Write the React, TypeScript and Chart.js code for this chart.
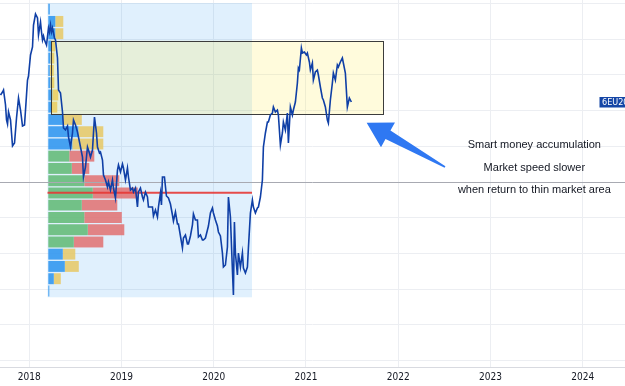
import { useEffect, useRef } from 'react';
import { Chart, registerables } from 'chart.js';

Chart.register(...registerables);

// Weekly closes: x = months since Jan 2018, y = price
const months = [
  -3.73, -3.47, -3.34, -3.08, -2.95, -2.82, -2.69, -2.43, -2.17, -1.91,
  -1.65, -1.39, -1.13, -0.87, -0.61, -0.35, -0.22, -0.09, 0.17, 0.43,
  0.56, 0.82, 1.08, 1.21, 1.47, 1.6, 1.73, 1.86, 1.99, 2.25,
  2.51, 2.64, 2.77, 2.9, 3.03, 3.29, 3.42, 3.68, 3.81, 4.07,
  4.33, 4.46, 4.72, 4.98, 5.11, 5.37, 5.63, 5.76, 6.02, 6.28,
  6.41, 6.67, 6.93, 7.06, 7.32, 7.58, 7.71, 7.97, 8.23, 8.36,
  8.49, 8.75, 8.88, 9.14, 9.27, 9.53, 9.66, 9.92, 10.18, 10.31,
  10.57, 10.83, 10.96, 11.22, 11.48, 11.61, 11.87, 12.13, 12.26, 12.52,
  12.78, 12.91, 13.17, 13.43, 13.56, 13.82, 14.08, 14.21, 14.47, 14.73,
  14.86, 15.12, 15.38, 15.51, 15.77, 16.03, 16.16, 16.42, 16.68, 16.81,
  17.07, 17.2, 17.33, 17.59, 17.85, 18.11, 18.37, 18.63, 18.76, 19.02,
  19.28, 19.41, 19.67, 19.93, 20.06, 20.32, 20.58, 20.71, 20.97, 21.23,
  21.36, 21.62, 21.88, 22.01, 22.27, 22.53, 22.66, 22.92, 23.18, 23.31,
  23.57, 23.83, 23.96, 24.22, 24.48, 24.61, 24.87, 25.13, 25.26, 25.52,
  25.78, 25.91, 26.17, 26.43, 26.56, 26.69, 26.82, 27.08, 27.21, 27.47,
  27.73, 27.86, 28.12, 28.38, 28.51, 28.77, 29.03, 29.16, 29.42, 29.68,
  29.81, 30.07, 30.33, 30.46, 30.72, 30.98, 31.11, 31.37, 31.63, 31.76,
  32.02, 32.28, 32.41, 32.67, 32.93, 33.06, 33.32, 33.58, 33.71, 33.97,
  34.23, 34.36, 34.62, 34.88, 35.01, 35.14, 35.4, 35.53, 35.79, 36.05,
  36.18, 36.44, 36.57, 36.83, 36.96, 37.22, 37.48, 37.61, 37.87, 38.13,
  38.26, 38.52, 38.78, 38.91, 39.17, 39.43, 39.56, 39.82, 40.08, 40.21,
  40.47, 40.73, 40.86, 41.12, 41.38, 41.64, 41.9,
];

const prices = [
  1.2109, 1.213, 1.2144, 1.2039, 1.1934, 1.1906, 1.199, 1.1934, 1.1752, 1.1773,
  1.1948, 1.2088, 1.2004, 1.1892, 1.1899, 1.2109, 1.2214, 1.2242, 1.2389, 1.2445,
  1.2599, 1.2676, 1.2648, 1.2529, 1.262, 1.255, 1.2494, 1.2522, 1.2494, 1.2459,
  1.2578, 1.255, 1.2599, 1.255, 1.2578, 1.2508, 1.2494, 1.2368, 1.2144, 1.2123,
  1.199, 1.1878, 1.1864, 1.1892, 1.1815, 1.1745, 1.1843, 1.1934, 1.1899, 1.185,
  1.1815, 1.1745, 1.1675, 1.1535, 1.1605, 1.1745, 1.1724, 1.1675, 1.1724, 1.1843,
  1.1955, 1.1843, 1.1745, 1.1703, 1.171, 1.1654, 1.1549, 1.1514, 1.1465, 1.15,
  1.1444, 1.1514, 1.1458, 1.1388, 1.1584, 1.1619, 1.157, 1.1626, 1.1598, 1.1514,
  1.1598, 1.1535, 1.1444, 1.1458, 1.143, 1.1458, 1.1325, 1.143, 1.1458, 1.1395,
  1.1374, 1.143, 1.1395, 1.1325, 1.1325, 1.1325, 1.1262, 1.1304, 1.1255, 1.1325,
  1.1423, 1.1339, 1.1535, 1.1535, 1.1402, 1.1388, 1.1346, 1.1269, 1.1227, 1.129,
  1.1206, 1.1206, 1.1122, 1.1038, 1.1108, 1.1129, 1.1066, 1.1066, 1.1122, 1.1199,
  1.1276, 1.1234, 1.1234, 1.1115, 1.1129, 1.1094, 1.1094, 1.1108, 1.1164, 1.1192,
  1.1283, 1.1318, 1.1283, 1.1234, 1.1192, 1.115, 1.1122, 1.1003, 1.0905, 1.0919,
  1.1045, 1.1395, 1.1255, 1.0884, 1.0709, 1.122, 1.1003, 1.0849, 1.1003, 1.0905,
  1.1003, 1.0898, 1.0863, 1.0905, 1.1038, 1.1283, 1.1374, 1.1325, 1.1283, 1.1318,
  1.1325, 1.1395, 1.1514, 1.1745, 1.1843, 1.192, 1.192, 1.1969, 1.1983, 1.2025,
  1.199, 1.2004, 1.1969, 1.1759, 1.1843, 1.192, 1.1864, 1.1983, 1.1773, 1.2025,
  1.1969, 1.2004, 1.206, 1.2193, 1.2298, 1.2284, 1.2438, 1.2403, 1.241, 1.2389,
  1.2403, 1.234, 1.2284, 1.2333, 1.2214, 1.227, 1.2284, 1.2249, 1.2165, 1.2088,
  1.2074, 1.2025, 1.1934, 1.1913, 1.2074, 1.2193, 1.2263, 1.2214, 1.2319, 1.2305,
  1.234, 1.2368, 1.2333, 1.2263, 1.2025, 1.2088, 1.206,
];

const yearTickMonths = [0, 12, 24, 36, 48, 60, 72];
const yearLabels = ['2018', '2019', '2020', '2021', '2022', '2023', '2024'];
const priceGridLevels = [1.025, 1.05, 1.075, 1.1, 1.125, 1.15, 1.175, 1.2, 1.225, 1.25, 1.275];

// Volume profile rows (price level centre), buy / sell volume
const profileLevels = [
  1.271, 1.2624, 1.2538, 1.2452, 1.2367, 1.2281, 1.2195, 1.2109, 1.2024, 1.1938, 1.1852, 1.1766,
  1.1681, 1.1595, 1.1509, 1.1423, 1.1338, 1.1252, 1.1166, 1.108, 1.0995, 1.0909, 1.0823, 1.0737,
];
const buyVolume = [1.5, 7, 7, 3, 2, 1.5, 2, 4, 3.5, 14.5, 30, 24, 21, 23.5, 36, 44.5, 33.5, 36, 39.5, 25.5, 14.5, 16.5, 5.5, 1];
const sellVolume = [0, 8, 8, 4, 4, 4, 4, 6, 5.5, 19, 25, 31, 25, 17.5, 35, 45, 35.5, 37.5, 36.5, 29.5, 12.5, 14, 7, 0];
const valueAreaHigh = 1.1681;
const valueAreaLow = 1.108;

const profileStart = 2.38;
const profileEnd = 28.98;
const profileTop = 1.2753;
const profileBottom = 1.0693;
const pocPrice = 1.1425;

const boxStart = 2.9;
const boxEnd = 46.14;
const boxTop = 1.2489;
const boxBottom = 1.1976;

const horizontalLinePrice = 1.15;

const arrowFrom = [54.08, 1.1605];
const arrowTo = [43.89, 1.1915];

const noteLines = ['Smart money accumulation', 'Market speed slower', 'when return to thin market area'];
const notePrices = [1.1736, 1.1579, 1.1425];
const noteMonth = 65.7;

const symbolLabel = '6EU20';

const LINE_COLOR = '#0f3fa6';
const GRID = '#eceef2';
const NARROW = "'DejaVu Sans Condensed', 'Liberation Sans Narrow', 'Liberation Sans', Arial, sans-serif";

const overlayPlugin = {
  id: 'overlay',
  beforeDatasetsDraw(chart: any) {
    const { ctx, scales } = chart;
    const x = scales.x, y = scales.y;
    const x0 = x.getPixelForValue(profileStart);
    const x1 = x.getPixelForValue(profileEnd);
    const y0 = y.getPixelForValue(profileTop);
    const y1 = y.getPixelForValue(profileBottom);
    ctx.save();
    ctx.fillStyle = 'rgba(33,150,243,0.14)';
    ctx.fillRect(x0, y0, x1 - x0, y1 - y0);
    ctx.restore();
  },
  afterDatasetDraw(chart: any, args: any) {
    if (args.index !== 1) return;
    const { ctx, scales, chartArea } = chart;
    const x = scales.x, y = scales.y;
    ctx.save();
    const bx0 = x.getPixelForValue(boxStart);
    const bx1 = x.getPixelForValue(boxEnd);
    const by0 = y.getPixelForValue(boxTop);
    const by1 = y.getPixelForValue(boxBottom);
    ctx.fillStyle = 'rgba(255,235,59,0.18)';
    ctx.fillRect(bx0, by0, bx1 - bx0, by1 - by0);
    ctx.strokeStyle = '#3c3c3c';
    ctx.lineWidth = 1;
    ctx.strokeRect(Math.round(bx0) + 0.5, Math.round(by0) + 0.5, Math.round(bx1 - bx0), Math.round(by1 - by0));
    const py = y.getPixelForValue(pocPrice);
    ctx.strokeStyle = 'rgba(229,57,53,0.9)';
    ctx.lineWidth = 2;
    ctx.beginPath();
    ctx.moveTo(x.getPixelForValue(profileStart), py);
    ctx.lineTo(x.getPixelForValue(profileEnd), py);
    ctx.stroke();
    const hy = Math.round(y.getPixelForValue(horizontalLinePrice)) + 0.5;
    ctx.strokeStyle = '#a8aab2';
    ctx.lineWidth = 1;
    ctx.beginPath();
    ctx.moveTo(chartArea.left, hy);
    ctx.lineTo(chartArea.right, hy);
    ctx.stroke();
    ctx.restore();
  },
  afterDraw(chart: any) {
    const { ctx, scales, chartArea } = chart;
    const x = scales.x, y = scales.y;
    ctx.save();
    const sx = x.getPixelForValue(arrowFrom[0]);
    const sy = y.getPixelForValue(arrowFrom[1]);
    const tx = x.getPixelForValue(arrowTo[0]);
    const ty = y.getPixelForValue(arrowTo[1]);
    const dx = tx - sx, dy = ty - sy;
    const len = Math.hypot(dx, dy);
    const ux = dx / len, uy = dy / len;
    const nx = -uy, ny = ux;
    const headLen = 24.5, headHalf = 14.2, shaftHalf = 5, tailHalf = 0.8;
    const bxp = tx - ux * headLen, byp = ty - uy * headLen;
    ctx.fillStyle = '#2f78f2';
    ctx.beginPath();
    ctx.moveTo(tx, ty);
    ctx.lineTo(bxp + nx * headHalf, byp + ny * headHalf);
    ctx.lineTo(bxp + nx * shaftHalf, byp + ny * shaftHalf);
    ctx.lineTo(sx + nx * tailHalf, sy + ny * tailHalf);
    ctx.lineTo(sx - nx * tailHalf, sy - ny * tailHalf);
    ctx.lineTo(bxp - nx * shaftHalf, byp - ny * shaftHalf);
    ctx.lineTo(bxp - nx * headHalf, byp - ny * headHalf);
    ctx.closePath();
    ctx.fill();
    ctx.fillStyle = '#131722';
    ctx.font = "11px 'Liberation Sans', Arial, sans-serif";
    ctx.textAlign = 'center';
    ctx.textBaseline = 'alphabetic';
    const nxp = x.getPixelForValue(noteMonth);
    noteLines.forEach((t, i) => {
      ctx.fillText(t, nxp, y.getPixelForValue(notePrices[i]));
    });
    const ly = y.getPixelForValue(prices[prices.length - 1]);
    const lx = chartArea.right - 25.5;
    ctx.fillStyle = '#1546a6';
    ctx.fillRect(lx, Math.round(ly) - 5, 40, 10.5);
    ctx.fillStyle = '#ffffff';
    ctx.font = '9px ' + NARROW;
    ctx.textAlign = 'left';
    ctx.textBaseline = 'middle';
    ctx.fillText(symbolLabel, lx + 2.5, Math.round(ly) + 0.5);
    ctx.restore();
  },
};

export default function App() {
  const ref = useRef<HTMLCanvasElement | null>(null);

  useEffect(() => {
    if (!ref.current) return;
    const inVA = (p: number) => p <= valueAreaHigh + 1e-6 && p >= valueAreaLow - 1e-6;
    const chart = new Chart(ref.current, {
      type: 'line',
      data: {
        datasets: [
          {
            type: 'line',
            data: months.map((m, i) => ({ x: m, y: prices[i] })),
            borderColor: LINE_COLOR,
            borderWidth: 1.6,
            pointRadius: 0,
            tension: 0,
            xAxisID: 'x',
            yAxisID: 'y',
          } as any,
          {
            type: 'bar',
            indexAxis: 'y',
            data: profileLevels.map((p, i) => ({ y: p, x: [0, buyVolume[i]] })),
            backgroundColor: profileLevels.map((p) => (inVA(p) ? 'rgba(102,187,122,0.9)' : 'rgba(52,152,240,0.9)')),
            borderWidth: 0,
            grouped: false,
            barPercentage: 1,
            categoryPercentage: 0.9,
            xAxisID: 'x2',
            yAxisID: 'y',
          } as any,
          {
            type: 'bar',
            indexAxis: 'y',
            data: profileLevels.map((p, i) => ({ y: p, x: [buyVolume[i], buyVolume[i] + sellVolume[i]] })),
            backgroundColor: profileLevels.map((p) => (inVA(p) ? 'rgba(226,112,112,0.85)' : 'rgba(232,200,100,0.85)')),
            borderWidth: 0,
            grouped: false,
            barPercentage: 1,
            categoryPercentage: 0.9,
            xAxisID: 'x2',
            yAxisID: 'y',
          } as any,
        ],
      },
      options: {
        animation: false,
        responsive: false,
        maintainAspectRatio: false,
        events: [],
        layout: { padding: 0 },
        plugins: { legend: { display: false }, tooltip: { enabled: false } },
        scales: {
          x: {
            type: 'linear',
            position: 'bottom',
            offset: false,
            min: -3.798,
            max: 77.49,
            afterBuildTicks: (s: any) => {
              s.ticks = yearTickMonths.map((v) => ({ value: v }));
            },
            afterFit: (s: any) => {
              s.height = 19;
            },
            ticks: {
              autoSkip: false,
              maxRotation: 0,
              padding: 4,
              color: '#131722',
              font: { family: NARROW, size: 10 },
              callback: (v: any) => yearLabels[yearTickMonths.indexOf(Number(v))] ?? '',
            },
            grid: { color: GRID, drawTicks: false, lineWidth: 1, offset: false },
            border: { display: true, color: '#d8dae0' },
          },
          x2: {
            type: 'linear',
            display: false,
            offset: false,
            min: -48.3,
            max: 576.7,
          },
          y: {
            type: 'linear',
            offset: false,
            min: 1.0205,
            max: 1.2774,
            afterBuildTicks: (s: any) => {
              s.ticks = priceGridLevels.map((v) => ({ value: v }));
            },
            afterFit: (s: any) => {
              s.width = 0;
            },
            ticks: { display: false },
            grid: { color: GRID, drawTicks: false, lineWidth: 1, offset: false },
            border: { display: false },
          },
        },
      } as any,
      plugins: [overlayPlugin],
    });
    return () => chart.destroy();
  }, []);

  return (
    <div style={{ position: 'fixed', left: 0, top: 0, width: 625, height: 386, background: '#ffffff' }}>
      <canvas ref={ref} width={625} height={386} style={{ display: 'block', width: 625, height: 386 }} />
    </div>
  );
}
